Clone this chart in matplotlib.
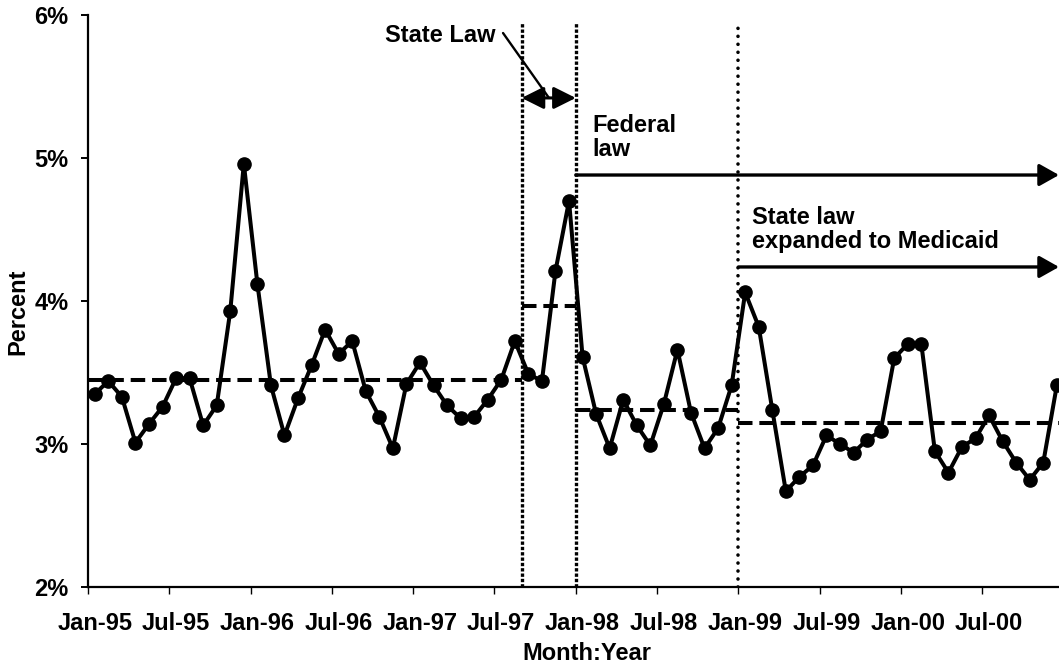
import numpy as np
import matplotlib.pyplot as plt

# monthly percent, Jan-95 .. Dec-00
percent = [3.35, 3.44, 3.33, 3.01, 3.14, 3.26, 3.46, 3.46, 3.13, 3.27, 3.93, 4.96,
           4.12, 3.41, 3.06, 3.32, 3.55, 3.80, 3.63, 3.72, 3.37, 3.19, 2.97, 3.42,
           3.57, 3.41, 3.27, 3.18, 3.19, 3.31, 3.45, 3.72, 3.49, 3.44, 4.21, 4.70,
           3.61, 3.21, 2.97, 3.31, 3.13, 2.99, 3.28, 3.66, 3.22, 2.97, 3.11, 3.41,
           4.06, 3.82, 3.24, 2.67, 2.77, 2.85, 3.06, 3.00, 2.94, 3.03, 3.09, 3.60,
           3.70, 3.70, 2.95, 2.80, 2.98, 3.04, 3.20, 3.02, 2.87, 2.75, 2.87, 3.41]

tick_labels = ["Jan-95", "Jul-95", "Jan-96", "Jul-96", "Jan-97", "Jul-97",
               "Jan-98", "Jul-98", "Jan-99", "Jul-99", "Jan-00", "Jul-00"]

# period means (first month index, last month index, mean)
period_first = [0, 32, 36, 48]
period_last = [31, 35, 47, 71]
period_mean = [3.45, 3.965, 3.24, 3.145]

# law dates as month index where the period starts
state_law = 32
federal_law = 36
medicaid_law = 48

plt.rcParams['font.family'] = ['Liberation Sans', 'DejaVu Sans']
plt.rcParams['font.weight'] = 'bold'
FS = 17

fig = plt.figure(figsize=(10.59, 6.65), dpi=100)
W, H = 1059, 665
ax = fig.add_axes([88 / W, (H - 587) / H, 975.6 / W, 572 / H])

x = np.arange(len(percent))

for a, b, m in zip(period_first, period_last, period_mean):
    ax.plot([a - 0.5, b + 0.5], [m, m], color='black', lw=2.9,
            linestyle=(0, (3.6, 1.7)), zorder=2)

ax.plot(x, percent, color='black', lw=2.9, marker='o', markersize=9.5, zorder=3,
        clip_on=False)

# law dates: square dots for the first two, round dots for the medicaid one
for v in [state_law, federal_law]:
    ax.axvline(v - 0.5, ymin=0, ymax=0.986, color='black', lw=2.4,
               linestyle=(0, (1.0, 0.6)), zorder=1)
ax.axvline(medicaid_law - 0.5, ymin=0, ymax=0.983, color='black', lw=2.6,
           linestyle=(0, (0.01, 2.2)), dash_capstyle='round', zorder=1)

ax.set_xlim(-0.5, len(percent) - 0.5)
ax.set_ylim(2, 6)
ax.set_yticks([2, 3, 4, 5, 6])
ax.set_yticklabels(['2%', '3%', '4%', '5%', '6%'])
ax.set_xticks(np.arange(-0.5, len(percent), 6))
ax.set_xticklabels([])
ax.set_xticks(np.arange(0, len(percent), 6), minor=True)
ax.set_xticklabels(tick_labels, minor=True)

ax.spines['top'].set_visible(False)
ax.spines['right'].set_visible(False)
ax.spines['left'].set_linewidth(1.6)
ax.spines['bottom'].set_linewidth(1.6)
ax.tick_params(axis='y', direction='out', length=5, width=1.4, pad=9, labelsize=FS)
ax.tick_params(axis='x', which='major', direction='out', length=5, width=1)
ax.tick_params(axis='x', which='minor', length=0, pad=18, labelsize=FS)

ax.text(0.511, -0.117, 'Month:Year', transform=ax.transAxes, ha='center',
        va='center', fontsize=FS, fontweight='bold')
ax.text(-0.072, 0.481, 'Percent', transform=ax.transAxes, ha='center',
        va='center', rotation=90, fontsize=FS, fontweight='bold')

head = '-|>,head_length=0.8,head_width=0.45'
dhead = '<|-|>,head_length=0.9,head_width=0.45'

# state law period
ax.annotate('', xy=(federal_law - 0.5, 5.42), xytext=(state_law - 0.5, 5.42),
            arrowprops=dict(arrowstyle=dhead, color='black', lw=2.2,
                            mutation_scale=15, shrinkA=0, shrinkB=0))
ax.text(29.6, 5.855, 'State Law', ha='right', va='center', fontsize=FS,
        fontweight='bold')
ax.annotate('', xy=(33.52, 5.42), xytext=(30.13, 5.874),
            arrowprops=dict(arrowstyle='-', color='black', lw=1.7,
                            shrinkA=0, shrinkB=0))

# federal law
ax.text(36.7, 5.143, 'Federal\nlaw', ha='left', va='center', fontsize=FS,
        fontweight='bold', linespacing=1.05)
ax.annotate('', xy=(71.16, 4.881), xytext=(federal_law - 0.5, 4.881),
            arrowprops=dict(arrowstyle=head, color='black', lw=2.4,
                            mutation_scale=15, shrinkA=0, shrinkB=0),
            annotation_clip=False)

# medicaid expansion
ax.text(48.5, 4.497, 'State law\nexpanded to Medicaid', ha='left', va='center',
        fontsize=FS, fontweight='bold', linespacing=1.05)
ax.annotate('', xy=(71.16, 4.238), xytext=(medicaid_law - 0.5, 4.238),
            arrowprops=dict(arrowstyle=head, color='black', lw=2.4,
                            mutation_scale=15, shrinkA=0, shrinkB=0),
            annotation_clip=False)

fig.savefig('out.png', dpi=100)
